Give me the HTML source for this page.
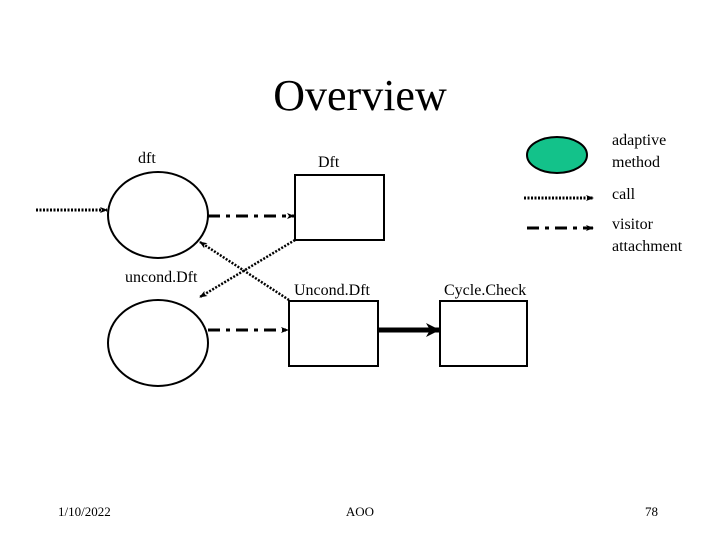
<!DOCTYPE html>
<html><head><style>
body{margin:0;background:#fff}
svg text{font-family:"Liberation Serif",serif;fill:#000}
</style></head><body>
<svg width="720" height="540" xmlns="http://www.w3.org/2000/svg">
<defs>
<marker id="a" markerWidth="8" markerHeight="8" refX="7" refY="4" orient="auto" markerUnits="userSpaceOnUse"><path d="M0,1 L8,4 L0,7 L2,4z" fill="#000"/></marker>
<marker id="b" markerWidth="14" markerHeight="14" refX="13" refY="7" orient="auto" markerUnits="userSpaceOnUse"><path d="M0,0 L14,7 L0,14 L4,7z" fill="#000"/></marker>
</defs>
<text x="360" y="110" font-size="44" text-anchor="middle">Overview</text>
<text x="138" y="163" font-size="16">dft</text>
<text x="318" y="167" font-size="16">Dft</text>
<text x="125" y="282" font-size="16">uncond.Dft</text>
<text x="294" y="295" font-size="16">Uncond.Dft</text>
<text x="444" y="295" font-size="16">Cycle.Check</text>
<text x="612" y="145" font-size="16">adaptive</text>
<text x="612" y="167" font-size="16">method</text>
<text x="612" y="199" font-size="16">call</text>
<text x="612" y="229" font-size="16">visitor</text>
<text x="612" y="251" font-size="16">attachment</text>
<text x="58" y="516" font-size="13">1/10/2022</text>
<text x="360" y="516" font-size="13" text-anchor="middle">AOO</text>
<text x="645" y="516" font-size="13">78</text>
<g fill="none" stroke="#000" stroke-width="2">
<ellipse cx="158" cy="215" rx="50" ry="43"/>
<ellipse cx="158" cy="343" rx="50" ry="43"/>
<rect x="295" y="175" width="89" height="65"/>
<rect x="289" y="301" width="89" height="65"/>
<rect x="440" y="301" width="87" height="65"/>
<ellipse cx="557" cy="155" rx="30" ry="18" fill="#13c28a"/>
</g>
<g fill="none" stroke="#000" stroke-width="3">
<line x1="36" y1="210" x2="107" y2="210" stroke-dasharray="2,1.5" marker-end="url(#a)"/>
<line x1="524" y1="198" x2="593" y2="198" stroke-dasharray="2,1.5" marker-end="url(#a)"/>
<line x1="208" y1="216" x2="294" y2="216" stroke-dasharray="12,6,4,6" marker-end="url(#a)"/>
<line x1="208" y1="330" x2="288" y2="330" stroke-dasharray="12,6,4,6" marker-end="url(#a)"/>
<line x1="527" y1="228" x2="593" y2="228" stroke-dasharray="12,6,4,6" marker-end="url(#a)"/>
<line x1="295" y1="240" x2="200" y2="297" stroke-width="2.5" stroke-dasharray="2,1.5" marker-end="url(#a)"/>
<line x1="289" y1="300" x2="200" y2="242" stroke-width="2.5" stroke-dasharray="2,1.5" marker-end="url(#a)"/>
<line x1="378" y1="330" x2="439" y2="330" stroke-width="5" marker-end="url(#b)"/>
</g>
</svg>
</body></html>
